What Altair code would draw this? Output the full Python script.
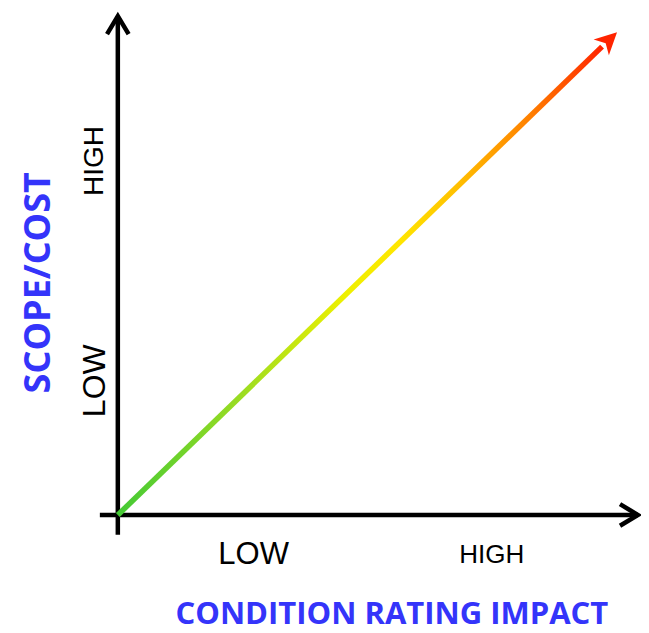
import altair as alt
import pandas as pd

# ---- coordinate frame (abstract data units: origin = axes crossing, 10 = arrow tip)
X_DOMAIN = [-2.2, 10.48]
Y_DOMAIN = [-2.445, 10.5]

# ---- axes (start / end points, arrow head direction)
axis_x1 = [-0.36, 0.0]
axis_y1 = [0.0, -0.41]
axis_x2 = [10.42, 0.0]
axis_y2 = [0.0, 10.33]
axis_head_angle = [90, 0]

# ---- trend arrow
trend_x = [0.0, 9.7]
trend_y = [0.0, 9.7]
trend_tip_x = [10.0]
trend_tip_y = [10.0]
trend_tip_angle = [45.9]
trend_colors = ["#44c935", "#99dc22", "#eef000", "#ffe600", "#ffc000", "#ff8000", "#ff2400"]
trend_offsets = [0.0, 0.25, 0.47, 0.58, 0.7, 0.85, 1.0]

# ---- tick-like labels
tick_labels = ["HIGH", "LOW", "LOW", "HIGH"]
tick_x = [-0.46, -0.46, 2.72, 7.49]
tick_y = [7.33, 2.78, -0.82, -0.83]
tick_angle = [270, 270, 0, 0]
tick_size = [28, 32, 31, 26]

# ---- axis titles
title_text = ["SCOPE/COST", "CONDITION RATING IMPACT"]
title_x = [-1.58, 5.49]
title_y = [4.81, -2.07]
title_angle = [270, 0]
title_size = [36, 31]

CHEVRON = "M-0.6,1 L0,0 L0.6,1"
STEALTH = "M0,0 L0.5,1 L0,0.72 L-0.5,1 Z"

xs = alt.Scale(domain=X_DOMAIN, nice=False, zero=False)
ys = alt.Scale(domain=Y_DOMAIN, nice=False, zero=False)

axes_df = pd.DataFrame({"x": axis_x1, "y": axis_y1, "x2": axis_x2, "y2": axis_y2,
                        "angle": axis_head_angle})
trend_df = pd.DataFrame({"x": trend_x, "y": trend_y})
tip_df = pd.DataFrame({"x": trend_tip_x, "y": trend_tip_y, "angle": trend_tip_angle})
tick_df = pd.DataFrame({"label": tick_labels, "x": tick_x, "y": tick_y,
                        "angle": tick_angle, "size": tick_size})
title_df = pd.DataFrame({"label": title_text, "x": title_x, "y": title_y,
                         "angle": title_angle, "size": title_size})

axes = alt.Chart(axes_df).mark_rule(color="black", strokeWidth=4.5, strokeCap="butt").encode(
    x=alt.X("x:Q", scale=xs, axis=None),
    y=alt.Y("y:Q", scale=ys, axis=None),
    x2="x2:Q",
    y2="y2:Q",
)

heads = alt.Chart(axes_df).mark_point(
    shape=CHEVRON, size=1296, filled=False, color="black", strokeWidth=4.5, opacity=1
).encode(
    x=alt.X("x2:Q", scale=xs, axis=None),
    y=alt.Y("y2:Q", scale=ys, axis=None),
    angle=alt.Angle("angle:Q", scale=None),
)

gradient = alt.Gradient(
    gradient="linear",
    stops=[alt.GradientStop(color=c, offset=o) for c, o in zip(trend_colors, trend_offsets)],
    x1=0, x2=1, y1=0, y2=0,
)

trend = alt.Chart(trend_df).mark_line(stroke=gradient, strokeWidth=5.5, strokeCap="butt").encode(
    x=alt.X("x:Q", scale=xs, axis=None),
    y=alt.Y("y:Q", scale=ys, axis=None),
)

tip = alt.Chart(tip_df).mark_point(
    shape=STEALTH, size=1936, filled=True, color=trend_colors[-1], opacity=1, strokeWidth=0
).encode(
    x=alt.X("x:Q", scale=xs, axis=None),
    y=alt.Y("y:Q", scale=ys, axis=None),
    angle=alt.Angle("angle:Q", scale=None),
)

ticks = alt.Chart(tick_df).mark_text(
    font="Liberation Sans", color="black", align="center", baseline="middle"
).encode(
    x=alt.X("x:Q", scale=xs, axis=None),
    y=alt.Y("y:Q", scale=ys, axis=None),
    text="label:N",
    angle=alt.Angle("angle:Q", scale=None),
    size=alt.Size("size:Q", scale=None),
)

titles = alt.Chart(title_df).mark_text(
    font="Open Sans", fontWeight="bold", color="#3434fa", align="center", baseline="middle"
).encode(
    x=alt.X("x:Q", scale=xs, axis=None),
    y=alt.Y("y:Q", scale=ys, axis=None),
    text="label:N",
    angle=alt.Angle("angle:Q", scale=None),
    size=alt.Size("size:Q", scale=None),
)

chart = alt.layer(axes, heads, trend, tip, ticks, titles).properties(
    width=633,
    height=625,
    autosize=alt.AutoSizeParams(type="none"),
    padding=0,
    background="white",
).configure_view(stroke=None)

chart.save("out.html", embed_options={"renderer": "svg", "actions": False})
